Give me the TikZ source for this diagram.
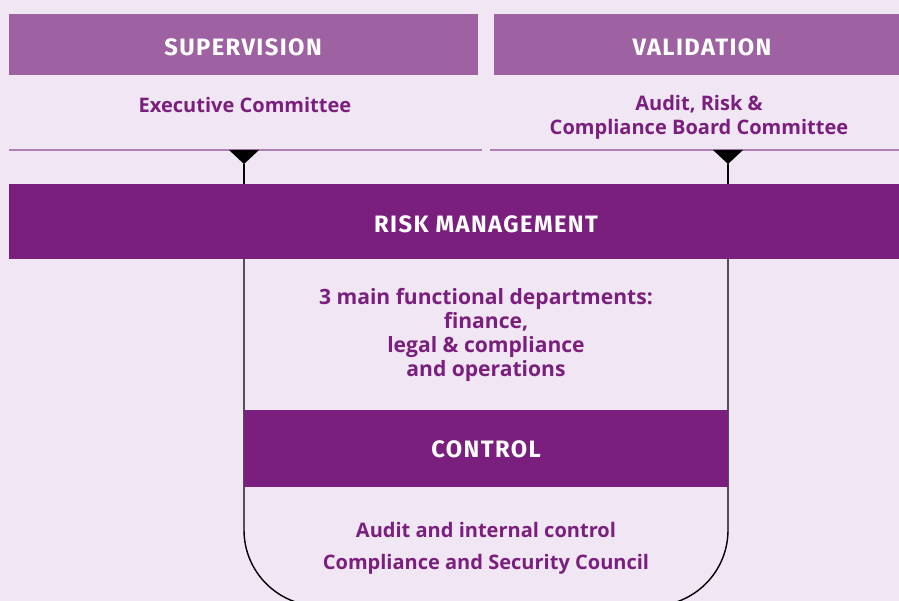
\documentclass[tikz,border=0pt]{standalone}
\usepackage{fontspec}
\setmainfont{Open Sans}
\newfontfamily\headfont[LetterSpace=6]{Fira Sans}
\usetikzlibrary{positioning}

\definecolor{bgpurple}{HTML}{F0E6F4}
\definecolor{midpurple}{HTML}{9E62A2}
\definecolor{darkpurple}{HTML}{7B1F7E}
\definecolor{rulepurple}{HTML}{B07FB5}

\tikzset{
    headbar/.style={fill=midpurple, inner sep=0pt, text=white},
    mainbar/.style={fill=darkpurple, inner sep=0pt, text=white},
    headtext/.style={text=white, inner sep=0pt, font=\headfont\bfseries\fontsize{13.5}{15}\selectfont},
    bodytext/.style={text=darkpurple, align=center, inner sep=0pt, font=\bfseries\fontsize{11.4}{13.6}\selectfont},
}

\begin{document}
\begin{tikzpicture}[x=0.02cm, y=-0.02cm]
        \useasboundingbox[fill=bgpurple] (0,0) rectangle (899,601);

        % top row
        \node[headbar, minimum width=9.38cm, minimum height=1.22cm] (sup) at (243.5,44.5) {};
        \node[headbar, minimum width=8.1cm, minimum height=1.22cm] (val) at (696.5,44.5) {};
        \node[headtext] (suptext) at (243,47) {SUPERVISION};
        \node[headtext] (valtext) at (702,47) {VALIDATION};
        \node[bodytext] (exec) at (245,105) {Executive Committee};
        \node[bodytext] (audit) at (699,117) {Audit, Risk \&\\Compliance Board Committee};

        % rule under the top row
        \coordinate (ruleL) at (9,150);
        \coordinate (ruleM) at (482,150);
        \coordinate (ruleN) at (490,150);
        \coordinate (ruleR) at (899,150);
        \draw[rulepurple, line width=1pt] (ruleL) -- (ruleM);
        \draw[rulepurple, line width=1pt] (ruleN) -- (ruleR);

        % outline round the lower part
        \coordinate (tipL) at (244,164);
        \coordinate (tipR) at (728,164);
        \draw[black, line width=0.8pt, rounded corners=1.52cm]
            (tipL) -- (244,606) -- (728,606) -- (tipR);

        % triangles
        \fill[black] (229,150) -- (259,150) -- (tipL) -- cycle;
        \fill[black] (713,150) -- (743,150) -- (tipR) -- cycle;

        % main bars
        \node[mainbar, minimum width=17.8cm, minimum height=1.5cm] (risk) at (454,221.5) {};
        \node[mainbar, minimum width=9.68cm, minimum height=1.54cm] (ctrl) at (486,448.5) {};
        \node[headtext] (risktext) at (486,224) {RISK MANAGEMENT};
        \node[headtext] (ctrltext) at (486,449) {CONTROL};

        \draw[black, line width=0.8pt] (tipL) -- (tipL |- risk.north);
        \draw[black, line width=0.8pt] (tipR) -- (tipR |- risk.north);

        \node[bodytext, font=\bfseries\fontsize{12}{13.6}\selectfont] (depts) at (486,335) {3 main functional departments:\\finance,\\legal \& compliance\\and operations};
        \node[bodytext, font=\bfseries\fontsize{11.4}{18}\selectfont] (council) at (486,548) {Audit and internal control\\Compliance and Security Council};
    \end{tikzpicture}
\end{document}
